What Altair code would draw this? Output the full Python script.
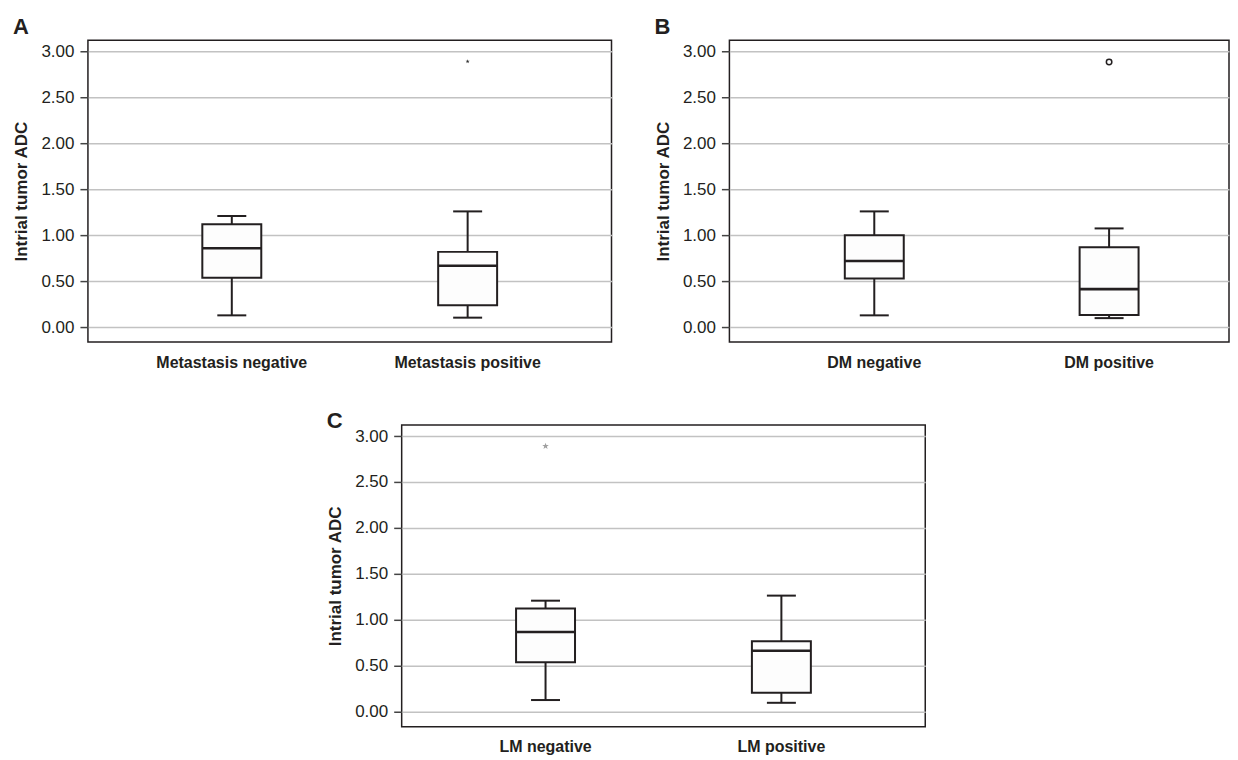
import altair as alt
import pandas as pd

FONT = "Liberation Sans"
INK = "#231f20"
GRID = "#c2c2c2"
STAR = ("M0,-1L0.235,-0.324L0.951,-0.309L0.38,0.124L0.588,0.809L0,0.4"
        "L-0.588,0.809L-0.38,0.124L-0.951,-0.309L-0.235,-0.324Z")

# ---- data ----
y_ticks = [0.0, 0.5, 1.0, 1.5, 2.0, 2.5, 3.0]
y_domain = [-0.16, 3.12]

a_groups = ["Metastasis negative", "Metastasis positive"]
a_low = [0.13, 0.105]
a_q1 = [0.54, 0.24]
a_median = [0.86, 0.67]
a_q3 = [1.12, 0.82]
a_high = [1.21, 1.26]
a_out_group = ["Metastasis positive"]
a_out_value = [2.89]

b_groups = ["DM negative", "DM positive"]
b_low = [0.13, 0.10]
b_q1 = [0.53, 0.135]
b_median = [0.72, 0.415]
b_q3 = [1.00, 0.87]
b_high = [1.26, 1.075]
b_out_group = ["DM positive"]
b_out_value = [2.885]

c_groups = ["LM negative", "LM positive"]
c_low = [0.13, 0.10]
c_q1 = [0.54, 0.21]
c_median = [0.87, 0.665]
c_q3 = [1.125, 0.77]
c_high = [1.21, 1.265]
c_out_group = ["LM negative"]
c_out_value = [2.89]


def panel(letter, groups, low, q1, med, q3, high, og, ov, outlier_mark,
          width, pad_outer, align, title_offset):
    df = pd.DataFrame(dict(group=groups, low=low, q1=q1, mid=med, q3=q3, high=high))
    odf = pd.DataFrame(dict(group=og, value=ov))
    xs = alt.Scale(domain=groups, paddingInner=0.5, paddingOuter=pad_outer, align=align)
    xax = alt.Axis(title=None, ticks=False, domain=False, labelAngle=0,
                   labelFont=FONT, labelFontSize=16, labelFontWeight="bold",
                   labelColor=INK, labelPadding=12)
    ys = alt.Scale(domain=y_domain, nice=False, zero=False)
    yax = alt.Axis(title="Intrial tumor ADC", values=y_ticks, format=".2f",
                   grid=True, gridColor=GRID, gridWidth=1.5, domain=False,
                   tickColor="#444444", tickWidth=1.5, tickSize=8,
                   labelFont=FONT, labelFontSize=17, labelColor=INK, labelPadding=6,
                   titleFont=FONT, titleFontSize=17, titleFontWeight="bold",
                   titleColor=INK, titlePadding=10)
    x = alt.X("group:N", scale=xs, axis=xax)
    base = alt.Chart(df)
    w_lo = base.mark_rule(color=INK, strokeWidth=2).encode(
        x=x, y=alt.Y("low:Q", scale=ys, axis=yax), y2="q1:Q")
    w_hi = base.mark_rule(color=INK, strokeWidth=2).encode(
        x=x, y=alt.Y("q3:Q"), y2="high:Q")
    box = base.mark_bar(size=59, fill="#fdfdfd", stroke=INK, strokeWidth=2).encode(
        x=x, y=alt.Y("q1:Q"), y2="q3:Q")
    mid = base.mark_tick(size=59, thickness=2.6, color=INK, opacity=1).encode(
        x=x, y=alt.Y("mid:Q"))
    cap_lo = base.mark_tick(size=29, thickness=2, color=INK, opacity=1).encode(
        x=x, y=alt.Y("low:Q"))
    cap_hi = base.mark_tick(size=29, thickness=2, color=INK, opacity=1).encode(
        x=x, y=alt.Y("high:Q"))
    out = alt.Chart(odf).mark_point(**outlier_mark).encode(x=x, y=alt.Y("value:Q"))
    return alt.layer(w_lo, w_hi, box, mid, cap_lo, cap_hi, out).properties(
        width=width, height=302,
        title=alt.TitleParams(letter, anchor="start", frame="bounds", font=FONT,
                              fontSize=22, fontWeight="bold", color=INK,
                              offset=title_offset))


chart_a = panel("A", a_groups, a_low, a_q1, a_median, a_q3, a_high,
                a_out_group, a_out_value,
                dict(shape=STAR, size=18, filled=True, color="#333333", opacity=1),
                524, 0.36, 0.5, 1)
chart_b = panel("B", b_groups, b_low, b_q1, b_median, b_q3, b_high,
                b_out_group, b_out_value,
                dict(shape="circle", size=30, filled=False, color=INK,
                     strokeWidth=1.5, opacity=1),
                500, 0.3138, 0.5847, 1)
chart_c = panel("C", c_groups, c_low, c_q1, c_median, c_q3, c_high,
                c_out_group, c_out_value,
                dict(shape=STAR, size=48, filled=True, color="#a0a0a0", opacity=1),
                524, 0.36, 0.5, -8)

spacer = alt.Chart(pd.DataFrame({"v": [0]})).mark_rule(opacity=0).encode(
    x=alt.value(0)
).properties(width=237, height=10, view=alt.ViewBackground(stroke="transparent"))

chart = alt.vconcat(
    alt.hconcat(chart_a, chart_b, spacing=41),
    alt.hconcat(spacer, chart_c, spacing=0),
    spacing=38
).properties(
    padding={"left": 4, "top": 7, "right": 0, "bottom": 0},
    background="white",
).configure_view(stroke=INK, strokeWidth=1.5)

chart.save("out.html", embed_options={"renderer": "svg", "actions": False})
